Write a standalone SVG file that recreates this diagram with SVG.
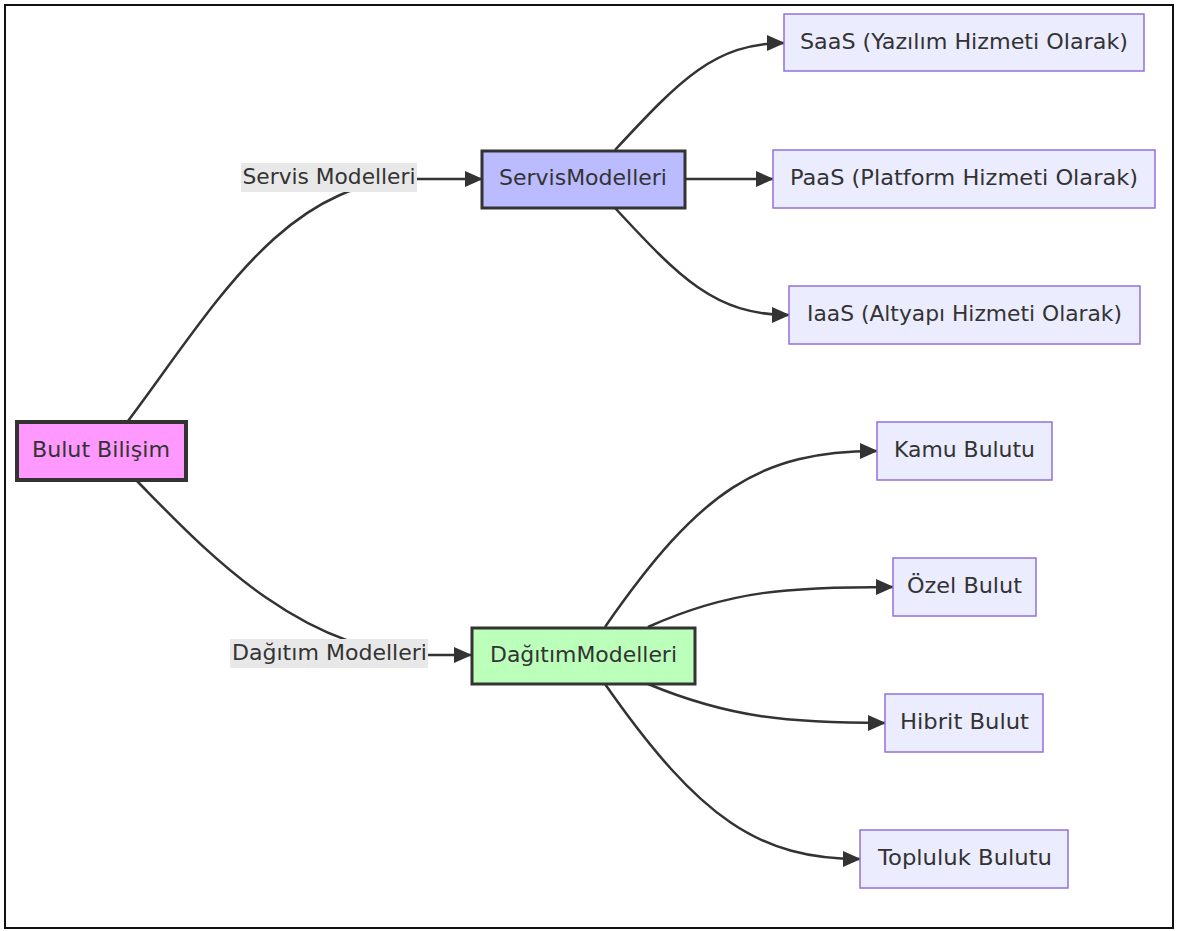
<svg xmlns="http://www.w3.org/2000/svg" width="1178" height="931" viewBox="0 0 1178 931">
<defs>
<marker id="arr" viewBox="0 0 18 16" refX="17" refY="8" markerWidth="18" markerHeight="16" markerUnits="userSpaceOnUse" orient="auto">
<path d="M0,0 L18,8 L0,16 z" fill="#333"/>
</marker>
<style>
.t{font-family:"DejaVu Sans","Noto Sans",sans-serif;font-size:21px;fill:#333;text-anchor:middle;dominant-baseline:central}
.leaf{fill:#ECECFF;stroke:#9370DB;stroke-width:1.5}
.e{fill:none;stroke:#333;stroke-width:2.5}
.a{marker-end:url(#arr)}
.lb{fill:#e8e8e8}
</style>
</defs>
<rect width="1178" height="931" fill="#fff"/>
<rect x="5" y="5" width="1168" height="923" fill="none" stroke="#111" stroke-width="2"/>
<g id="connectors">
<path class="e" d="M128,421 C215,305 285,179 417,179"/>
<path class="e a" d="M417,179 L482,179"/>
<path class="e" d="M137,481 C200,545 300,655 428,655"/>
<path class="e a" d="M428,655 L471,655"/>
<path class="e a" d="M615,150 C680,80 715,43 784,43"/>
<path class="e a" d="M685,179 L773,179"/>
<path class="e a" d="M615,208 C680,278 715,315 789,315"/>
<path class="e a" d="M605,627 C700,490 760,451 877,451"/>
<path class="e a" d="M648,627 C730,590 790,587 893,587"/>
<path class="e a" d="M648,684 C730,718 790,723 885,723"/>
<path class="e a" d="M605,684 C700,820 760,859 860,859"/>
</g>
<g id="label-servis">
<rect class="lb" x="241" y="163" width="176" height="29"/>
<text class="t" x="329" y="177" textLength="173" lengthAdjust="spacingAndGlyphs">Servis Modelleri</text>
</g>
<g id="label-dagitim">
<rect class="lb" x="230" y="639" width="198" height="29"/>
<text class="t" x="329.5" y="653" textLength="195" lengthAdjust="spacingAndGlyphs">Dağıtım Modelleri</text>
</g>
<g id="bulut">
<rect x="17" y="422" width="169" height="58" fill="#ff99ff" stroke="#333" stroke-width="4"/>
<text class="t" x="101" y="450" textLength="138" lengthAdjust="spacingAndGlyphs">Bulut Bilişim</text>
</g>
<g id="servis">
<rect x="482" y="151" width="203" height="57" fill="#bbbbff" stroke="#333" stroke-width="3"/>
<text class="t" x="583" y="178" textLength="168" lengthAdjust="spacingAndGlyphs">ServisModelleri</text>
</g>
<g id="dagitim">
<rect x="472" y="628" width="223" height="56" fill="#bbffbb" stroke="#333" stroke-width="3"/>
<text class="t" x="583.5" y="655" textLength="187" lengthAdjust="spacingAndGlyphs">DağıtımModelleri</text>
</g>
<g id="saas">
<rect class="leaf" x="784" y="14" width="360" height="57"/>
<text class="t" x="964" y="42" textLength="328" lengthAdjust="spacingAndGlyphs">SaaS (Yazılım Hizmeti Olarak)</text>
</g>
<g id="paas">
<rect class="leaf" x="773" y="150" width="382" height="58"/>
<text class="t" x="964" y="178" textLength="348" lengthAdjust="spacingAndGlyphs">PaaS (Platform Hizmeti Olarak)</text>
</g>
<g id="iaas">
<rect class="leaf" x="789" y="286" width="351" height="58"/>
<text class="t" x="964.5" y="314" textLength="315" lengthAdjust="spacingAndGlyphs">IaaS (Altyapı Hizmeti Olarak)</text>
</g>
<g id="kamu">
<rect class="leaf" x="877" y="422" width="175" height="58"/>
<text class="t" x="964.5" y="450" textLength="141" lengthAdjust="spacingAndGlyphs">Kamu Bulutu</text>
</g>
<g id="ozel">
<rect class="leaf" x="893" y="558" width="143" height="58"/>
<text class="t" x="964.5" y="586" textLength="115" lengthAdjust="spacingAndGlyphs">Özel Bulut</text>
</g>
<g id="hibrit">
<rect class="leaf" x="885" y="694" width="158" height="58"/>
<text class="t" x="964.5" y="722" textLength="129" lengthAdjust="spacingAndGlyphs">Hibrit Bulut</text>
</g>
<g id="topluluk">
<rect class="leaf" x="860" y="830" width="208" height="58"/>
<text class="t" x="965" y="858" textLength="174" lengthAdjust="spacingAndGlyphs">Topluluk Bulutu</text>
</g>
</svg>
